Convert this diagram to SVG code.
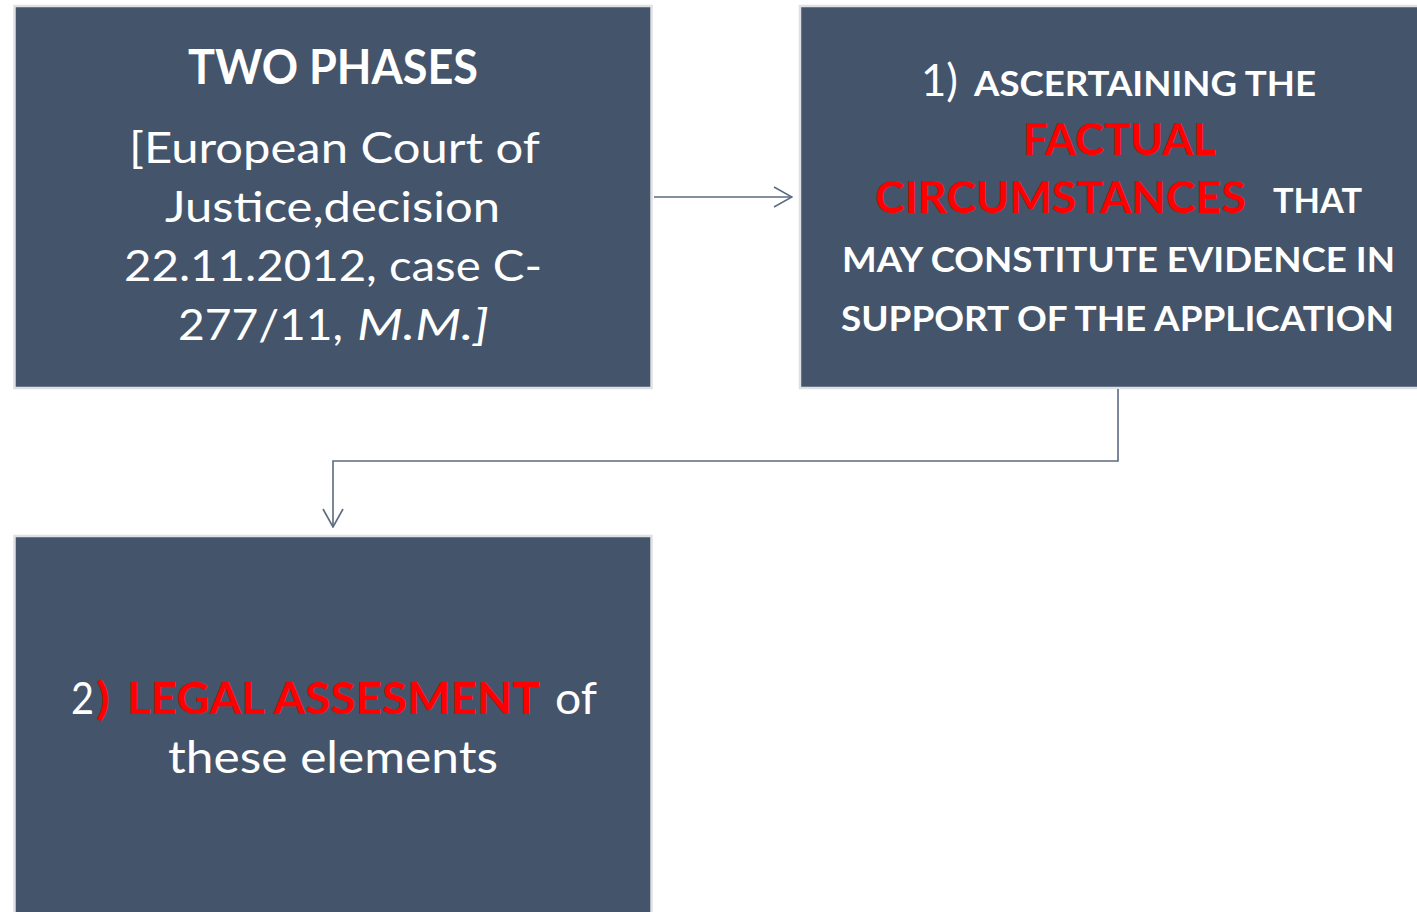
<svg xmlns="http://www.w3.org/2000/svg" width="1417" height="912" viewBox="0 0 1417 912">
<defs>
<style>
.box{fill:#44546a;stroke:#dde0e4;stroke-width:2.5}
.t{font-family:Lato,"Liberation Sans",sans-serif;fill:#ffffff}
.r{font-family:Lato,"Liberation Sans",sans-serif;fill:#ff0000;font-weight:bold}
.b{font-weight:bold}
.i{font-style:italic}
.con{fill:none;stroke:#5b6b82;stroke-width:1.6}
</style>
<marker id="arr" viewBox="0 0 20 22" refX="19" refY="11" markerWidth="20" markerHeight="22" markerUnits="userSpaceOnUse" orient="auto">
<path d="M1,1 L19,11 L1,21" fill="none" stroke="#5b6b82" stroke-width="1.6"/>
</marker>
</defs>
<rect width="1417" height="912" fill="#ffffff"/>
<g id="node-two-phases">
<rect class="box" x="14.5" y="6" width="637" height="382"/>
<text class="t b" x="188" y="84" font-size="47" textLength="290" lengthAdjust="spacingAndGlyphs">TWO PHASES</text>
<text class="t" x="129" y="163" font-size="42" textLength="411" lengthAdjust="spacingAndGlyphs">[European Court of</text>
<text class="t" x="165" y="222" font-size="42" textLength="335" lengthAdjust="spacingAndGlyphs">Justice,decision</text>
<text class="t" x="124" y="281" font-size="42" textLength="418" lengthAdjust="spacingAndGlyphs">22.11.2012, case C-</text>
<text class="t" x="178" y="340" font-size="42" textLength="165" lengthAdjust="spacingAndGlyphs">277/11,</text>
<text class="t i" x="357" y="340" font-size="42" textLength="132" lengthAdjust="spacingAndGlyphs">M.M.]</text>
</g>
<g id="node-phase1">
<rect class="box" x="800" y="6" width="640" height="382"/>
<text class="t" x="921" y="96" font-size="44" textLength="37" lengthAdjust="spacingAndGlyphs">1)</text>
<text class="t b" x="974" y="96" font-size="35" textLength="342" lengthAdjust="spacingAndGlyphs">ASCERTAINING THE</text>
<text class="r" x="1023" y="155" font-size="44" textLength="193" lengthAdjust="spacingAndGlyphs">FACTUAL</text>
<text class="r" x="875" y="213" font-size="44" textLength="371" lengthAdjust="spacingAndGlyphs">CIRCUMSTANCES</text>
<text class="t b" x="1273" y="213" font-size="35" textLength="89" lengthAdjust="spacingAndGlyphs">THAT</text>
<text class="t b" x="842" y="272" font-size="35" textLength="553" lengthAdjust="spacingAndGlyphs">MAY CONSTITUTE EVIDENCE IN</text>
<text class="t b" x="841" y="331" font-size="35" textLength="553" lengthAdjust="spacingAndGlyphs">SUPPORT OF THE APPLICATION</text>
</g>
<g id="node-phase2">
<rect class="box" x="14.5" y="536" width="637" height="390"/>
<text class="t" x="71" y="714" font-size="44" textLength="23" lengthAdjust="spacingAndGlyphs">2</text>
<text class="r" x="96" y="714" font-size="44" textLength="14" lengthAdjust="spacingAndGlyphs">)</text>
<text class="r" x="127" y="714" font-size="44" textLength="413" lengthAdjust="spacingAndGlyphs">LEGAL ASSESMENT</text>
<text class="t" x="555" y="714" font-size="44" textLength="42" lengthAdjust="spacingAndGlyphs">of</text>
<text class="t" x="168" y="773" font-size="44" textLength="330" lengthAdjust="spacingAndGlyphs">these elements</text>
</g>
<g id="connectors">
<path class="con" d="M654,197 H792" marker-end="url(#arr)"/>
<path class="con" d="M1118,389 V461 H333 V527" marker-end="url(#arr)"/>
</g>
</svg>
